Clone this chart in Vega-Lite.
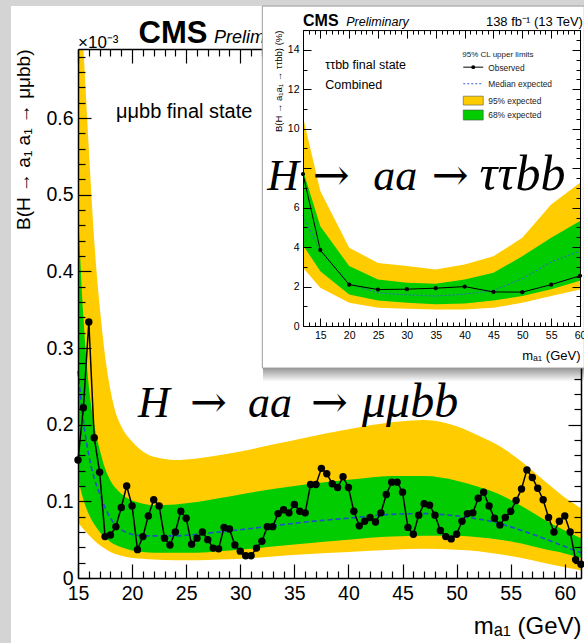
{
"$schema": "https://vega.github.io/schema/vega-lite/v6.json",
"background": "#d4d4d4",
"padding": {"left": 10, "top": 5, "right": 0, "bottom": 0},
"spacing": -325,
"align": "none",
"config": {"view": {"stroke": null}, "axis": {"labelFont": "Liberation Sans", "titleFont": "Liberation Sans", "labelColor": "black", "titleColor": "black", "tickColor": "black", "domainColor": "black", "grid": false, "titleFontWeight": "normal", "labelFlush": false, "labelOverlap": false}, "text": {"font": "Liberation Sans", "color": "black"}},
"datasets": {
"mainObs": [
{"m":15,"v":0.154},{"m":15.5,"v":0.222},{"m":16,"v":0.334},{"m":16.5,"v":0.183},{"m":17,"v":0.138},{"m":17.5,"v":0.054},{"m":18,"v":0.056},{"m":18.5,"v":0.067},{"m":19,"v":0.092},{"m":19.5,"v":0.12},
{"m":20,"v":0.094},{"m":20.5,"v":0.037},{"m":21,"v":0.054},{"m":21.5,"v":0.081},{"m":22,"v":0.102},{"m":22.5,"v":0.094},{"m":23,"v":0.052},{"m":23.5,"v":0.043},{"m":24,"v":0.06},{"m":24.5,"v":0.087},
{"m":25,"v":0.078},{"m":25.5,"v":0.044},{"m":26,"v":0.052},{"m":26.5,"v":0.06},{"m":27,"v":0.05},{"m":27.5,"v":0.039},{"m":28,"v":0.038},{"m":28.5,"v":0.066},{"m":29,"v":0.064},{"m":29.5,"v":0.043},
{"m":30,"v":0.035},{"m":30.5,"v":0.029},{"m":31,"v":0.029},{"m":31.5,"v":0.039},{"m":32,"v":0.048},{"m":32.5,"v":0.067},{"m":33,"v":0.067},{"m":33.5,"v":0.084},{"m":34,"v":0.089},{"m":34.5,"v":0.085},
{"m":35,"v":0.096},{"m":35.5,"v":0.087},{"m":36,"v":0.085},{"m":36.5,"v":0.122},{"m":37,"v":0.122},{"m":37.5,"v":0.143},{"m":38,"v":0.136},{"m":38.5,"v":0.123},{"m":39,"v":0.118},{"m":39.5,"v":0.132},
{"m":40,"v":0.118},{"m":40.5,"v":0.087},{"m":41,"v":0.068},{"m":41.5,"v":0.074},{"m":42,"v":0.079},{"m":42.5,"v":0.073},{"m":43,"v":0.085},{"m":43.5,"v":0.109},{"m":44,"v":0.125},{"m":44.5,"v":0.125},
{"m":45,"v":0.112},{"m":45.5,"v":0.066},{"m":46,"v":0.057},{"m":46.5,"v":0.082},{"m":47,"v":0.097},{"m":47.5,"v":0.095},{"m":48,"v":0.082},{"m":48.5,"v":0.062},{"m":49,"v":0.054},{"m":49.5,"v":0.051},
{"m":50,"v":0.057},{"m":50.5,"v":0.074},{"m":51,"v":0.084},{"m":51.5,"v":0.085},{"m":52,"v":0.104},{"m":52.5,"v":0.112},{"m":53,"v":0.094},{"m":53.5,"v":0.078},{"m":54,"v":0.069},{"m":54.5,"v":0.079},
{"m":55,"v":0.087},{"m":55.5,"v":0.101},{"m":56,"v":0.116},{"m":56.5,"v":0.141},{"m":57,"v":0.131},{"m":57.5,"v":0.117},{"m":58,"v":0.102},{"m":58.5,"v":0.079},{"m":59,"v":0.06},{"m":59.5,"v":0.074},
{"m":60,"v":0.081},{"m":60.5,"v":0.06},{"m":61,"v":0.024},{"m":61.5,"v":0.018}
],
"mainBand": [
{"m":15,"lo95":0.072,"lo68":0.13,"med":0.27,"hi68":0.48,"hi95":0.8},
{"m":15.5,"lo95":0.064,"lo68":0.102,"med":0.205,"hi68":0.34,"hi95":0.69},
{"m":16,"lo95":0.056,"lo68":0.083,"med":0.16,"hi68":0.25,"hi95":0.56},
{"m":16.5,"lo95":0.049,"lo68":0.07,"med":0.13,"hi68":0.2,"hi95":0.44},
{"m":17,"lo95":0.043,"lo68":0.06,"med":0.11,"hi68":0.168,"hi95":0.355},
{"m":17.5,"lo95":0.038,"lo68":0.053,"med":0.092,"hi68":0.143,"hi95":0.29},
{"m":18,"lo95":0.034,"lo68":0.047,"med":0.078,"hi68":0.127,"hi95":0.245},
{"m":18.5,"lo95":0.031,"lo68":0.043,"med":0.069,"hi68":0.117,"hi95":0.215},
{"m":19,"lo95":0.029,"lo68":0.04,"med":0.063,"hi68":0.11,"hi95":0.198},
{"m":20,"lo95":0.026,"lo68":0.036,"med":0.057,"hi68":0.101,"hi95":0.178},
{"m":21,"lo95":0.025,"lo68":0.034,"med":0.055,"hi68":0.097,"hi95":0.165},
{"m":22,"lo95":0.024,"lo68":0.033,"med":0.055,"hi68":0.095,"hi95":0.158},
{"m":24,"lo95":0.023,"lo68":0.033,"med":0.055,"hi68":0.096,"hi95":0.154},
{"m":26,"lo95":0.023,"lo68":0.033,"med":0.057,"hi68":0.099,"hi95":0.156},
{"m":28,"lo95":0.024,"lo68":0.035,"med":0.06,"hi68":0.104,"hi95":0.16},
{"m":30,"lo95":0.025,"lo68":0.037,"med":0.063,"hi68":0.109,"hi95":0.165},
{"m":33,"lo95":0.028,"lo68":0.041,"med":0.068,"hi68":0.116,"hi95":0.174},
{"m":36,"lo95":0.031,"lo68":0.045,"med":0.073,"hi68":0.122,"hi95":0.183},
{"m":40,"lo95":0.034,"lo68":0.05,"med":0.078,"hi68":0.128,"hi95":0.194},
{"m":44,"lo95":0.037,"lo68":0.054,"med":0.083,"hi68":0.133,"hi95":0.203},
{"m":47,"lo95":0.038,"lo68":0.055,"med":0.084,"hi68":0.133,"hi95":0.206},
{"m":50,"lo95":0.037,"lo68":0.055,"med":0.081,"hi68":0.127,"hi95":0.198},
{"m":52,"lo95":0.035,"lo68":0.053,"med":0.077,"hi68":0.119,"hi95":0.186},
{"m":54,"lo95":0.031,"lo68":0.05,"med":0.071,"hi68":0.109,"hi95":0.172},
{"m":56,"lo95":0.026,"lo68":0.045,"med":0.062,"hi68":0.094,"hi95":0.152},
{"m":58,"lo95":0.02,"lo68":0.038,"med":0.052,"hi68":0.077,"hi95":0.128},
{"m":60,"lo95":0.014,"lo68":0.032,"med":0.041,"hi68":0.062,"hi95":0.105},
{"m":61.5,"lo95":0.01,"lo68":0.026,"med":0.033,"hi68":0.052,"hi95":0.091}
],
"inset": [
{"m":12,"obs":7.7,"med":5.6,"lo68":4.1,"hi68":7.9,"lo95":2.95,"hi95":10.6},
{"m":15,"obs":3.85,"med":3.8,"lo68":2.78,"hi68":5.06,"lo95":1.94,"hi95":6.84},
{"m":20,"obs":2.1,"med":2.15,"lo68":1.6,"hi68":3.04,"lo95":1.18,"hi95":3.97},
{"m":25,"obs":1.85,"med":1.68,"lo68":1.3,"hi68":2.36,"lo95":0.93,"hi95":3.2},
{"m":30,"obs":1.87,"med":1.58,"lo68":1.18,"hi68":2.19,"lo95":0.88,"hi95":3.04},
{"m":35,"obs":1.92,"med":1.52,"lo68":1.1,"hi68":2.14,"lo95":0.84,"hi95":2.87},
{"m":40,"obs":2.0,"med":1.62,"lo68":1.15,"hi68":2.36,"lo95":0.84,"hi95":3.12},
{"m":45,"obs":1.73,"med":1.8,"lo68":1.3,"hi68":2.7,"lo95":0.93,"hi95":3.54},
{"m":50,"obs":1.72,"med":2.4,"lo68":1.52,"hi68":3.54,"lo95":1.18,"hi95":4.47},
{"m":55,"obs":2.1,"med":3.25,"lo68":1.86,"hi68":4.47,"lo95":1.52,"hi95":6.16},
{"m":60,"obs":2.55,"med":3.8,"lo68":2.3,"hi68":5.32,"lo95":1.85,"hi95":7.26}
]
},
"hconcat": [
{
"width": 503, "height": 529,
"resolve": {"axis": {"x": "independent", "y": "independent"}},
"layer": [
{"data": {"values": [{}]}, "mark": {"type": "rect", "color": "white"},
 "encoding": {"x": {"datum": 8.806, "type": "quantitative", "scale": {"domain": [15, 61.5], "nice": false, "zero": false}, "axis": null}, "x2": {"datum": 61.87},
  "y": {"datum": 0.746, "type": "quantitative", "scale": {"domain": [0, 0.69], "nice": false, "zero": false}, "axis": null}, "y2": {"datum": -0.085}}},
{"data": {"name": "mainBand"}, "mark": {"type": "area", "interpolate": "monotone", "color": "#FFCC00", "clip": true},
 "encoding": {
  "x": {"field": "m", "type": "quantitative", "scale": {"domain": [15, 61.5], "nice": false, "zero": false},
   "axis": {"orient": "bottom", "zindex": 1, "values": [15,16,17,18,19,20,21,22,23,24,25,26,27,28,29,30,31,32,33,34,35,36,37,38,39,40,41,42,43,44,45,46,47,48,49,50,51,52,53,54,55,56,57,58,59,60,61], "format": "d",
    "labelExpr": "datum.value % 5 === 0 ? datum.label : ''",
    "tickSize": {"condition": {"test": "datum.value % 5 === 0", "value": -14}, "value": -7},
    "tickWidth": 1.2, "domainWidth": 1.5, "labelFontSize": 19.5, "labelPadding": 20,
    "title": "mₐ₁ (GeV)", "titleFontSize": 24, "titleAnchor": "end", "titlePadding": 5}},
  "y": {"field": "hi95", "type": "quantitative", "scale": {"domain": [0, 0.69], "nice": false, "zero": false},
   "axis": {"orient": "left", "zindex": 1, "values": [0,0.02,0.04,0.06,0.08,0.1,0.12,0.14,0.16,0.18,0.2,0.22,0.24,0.26,0.28,0.3,0.32,0.34,0.36,0.38,0.4,0.42,0.44,0.46,0.48,0.5,0.52,0.54,0.56,0.58,0.6,0.62,0.64,0.66,0.68], "format": "~g",
    "labelExpr": "indexof([0,0.1,0.2,0.3,0.4,0.5,0.6], datum.value) >= 0 ? datum.label : ''",
    "tickSize": {"condition": {"test": "indexof([0,0.1,0.2,0.3,0.4,0.5,0.6], datum.value) >= 0", "value": -13}, "value": -7},
    "tickWidth": 1.2, "domainWidth": 1.5, "labelFontSize": 19.5, "labelPadding": 18,
    "title": "B(H → a₁ a₁ → μμbb)", "titleFontSize": 19, "titleAnchor": "end", "titlePadding": 12}},
  "y2": {"field": "lo95"}}},
{"data": {"name": "mainBand"}, "mark": {"type": "area", "interpolate": "monotone", "color": "#00CC00", "clip": true},
 "encoding": {
  "x": {"field": "m", "type": "quantitative", "scale": {"domain": [15, 61.5], "nice": false, "zero": false},
   "axis": {"orient": "top", "zindex": 1, "values": [15,16,17,18,19,20,21,22,23,24,25,26,27,28,29,30,31,32,33,34,35,36,37,38,39,40,41,42,43,44,45,46,47,48,49,50,51,52,53,54,55,56,57,58,59,60,61],
    "labels": false, "tickSize": {"condition": {"test": "datum.value % 5 === 0", "value": -14}, "value": -7}, "tickWidth": 1.2, "domainWidth": 1.5, "title": null}},
  "y": {"field": "hi68", "type": "quantitative", "scale": {"domain": [0, 0.69], "nice": false, "zero": false},
   "axis": {"orient": "right", "zindex": 1, "values": [0,0.02,0.04,0.06,0.08,0.1,0.12,0.14,0.16,0.18,0.2,0.22,0.24,0.26,0.28,0.3,0.32,0.34,0.36,0.38,0.4,0.42,0.44,0.46,0.48,0.5,0.52,0.54,0.56,0.58,0.6,0.62,0.64,0.66,0.68],
    "labels": false, "tickSize": {"condition": {"test": "indexof([0,0.1,0.2,0.3,0.4,0.5,0.6], datum.value) >= 0", "value": -13}, "value": -7}, "tickWidth": 1.2, "domainWidth": 1.5, "title": null}},
  "y2": {"field": "lo68"}}},
{"data": {"name": "mainBand"}, "mark": {"type": "line", "interpolate": "monotone", "color": "#2050c8", "strokeWidth": 1.6, "strokeDash": [5, 3]},
 "encoding": {"x": {"field": "m", "type": "quantitative", "scale": {"domain": [15, 61.5], "nice": false, "zero": false}, "axis": null},
  "y": {"field": "med", "type": "quantitative", "scale": {"domain": [0, 0.69], "nice": false, "zero": false}, "axis": null}}},
{"data": {"name": "mainObs"}, "mark": {"type": "line", "color": "black", "strokeWidth": 1.5, "point": {"filled": true, "size": 55, "color": "black"}},
 "encoding": {"x": {"field": "m", "type": "quantitative", "scale": {"domain": [15, 61.5], "nice": false, "zero": false}, "axis": null},
  "y": {"field": "v", "type": "quantitative", "scale": {"domain": [0, 0.69], "nice": false, "zero": false}, "axis": null}}},
{"data": {"values": [{}]}, "mark": {"type": "text", "text": "×10⁻³", "fontSize": 17, "align": "left", "baseline": "alphabetic"},
 "encoding": {"x": {"datum": 15.0, "type": "quantitative", "scale": {"domain": [15, 61.5], "nice": false, "zero": false}, "axis": null},
  "y": {"datum": 0.6916, "type": "quantitative", "scale": {"domain": [0, 0.69], "nice": false, "zero": false}, "axis": null}}},
{"data": {"values": [{}]}, "mark": {"type": "text", "text": "CMS", "fontSize": 31, "fontWeight": "bold", "align": "left", "baseline": "alphabetic"},
 "encoding": {"x": {"datum": 20.6, "type": "quantitative", "scale": {"domain": [15, 61.5], "nice": false, "zero": false}, "axis": null},
  "y": {"datum": 0.6977, "type": "quantitative", "scale": {"domain": [0, 0.69], "nice": false, "zero": false}, "axis": null}}},
{"data": {"values": [{}]}, "mark": {"type": "text", "text": "Preliminary", "fontSize": 18, "fontStyle": "italic", "align": "left", "baseline": "alphabetic"},
 "encoding": {"x": {"datum": 27.57, "type": "quantitative", "scale": {"domain": [15, 61.5], "nice": false, "zero": false}, "axis": null},
  "y": {"datum": 0.6977, "type": "quantitative", "scale": {"domain": [0, 0.69], "nice": false, "zero": false}, "axis": null}}},
{"data": {"values": [{}]}, "mark": {"type": "text", "text": "μμbb final state", "fontSize": 20, "align": "left", "baseline": "alphabetic"},
 "encoding": {"x": {"datum": 18.51, "type": "quantitative", "scale": {"domain": [15, 61.5], "nice": false, "zero": false}, "axis": null},
  "y": {"datum": 0.6003, "type": "quantitative", "scale": {"domain": [0, 0.69], "nice": false, "zero": false}, "axis": null}}},
{"data": {"values": [{}]}, "mark": {"type": "text", "text": "H", "font": "Liberation Serif", "fontStyle": "italic", "fontSize": 44, "align": "left", "baseline": "alphabetic"},
 "encoding": {"x": {"datum": 20.547, "type": "quantitative", "scale": {"domain": [15, 61.5], "nice": false, "zero": false}, "axis": null},
  "y": {"datum": 0.2099, "type": "quantitative", "scale": {"domain": [0, 0.69], "nice": false, "zero": false}, "axis": null}}},
{"data": {"values": [{}]}, "mark": {"type": "text", "text": "→", "font": "DejaVu Serif", "fontSize": 44, "align": "center", "baseline": "alphabetic"},
 "encoding": {"x": {"datum": 27.064, "type": "quantitative", "scale": {"domain": [15, 61.5], "nice": false, "zero": false}, "axis": null},
  "y": {"datum": 0.2099, "type": "quantitative", "scale": {"domain": [0, 0.69], "nice": false, "zero": false}, "axis": null}}},
{"data": {"values": [{}]}, "mark": {"type": "text", "text": "aa", "font": "Liberation Serif", "fontStyle": "italic", "fontSize": 44, "align": "left", "baseline": "alphabetic"},
 "encoding": {"x": {"datum": 30.716, "type": "quantitative", "scale": {"domain": [15, 61.5], "nice": false, "zero": false}, "axis": null},
  "y": {"datum": 0.2099, "type": "quantitative", "scale": {"domain": [0, 0.69], "nice": false, "zero": false}, "axis": null}}},
{"data": {"values": [{}]}, "mark": {"type": "text", "text": "→", "font": "DejaVu Serif", "fontSize": 44, "align": "center", "baseline": "alphabetic"},
 "encoding": {"x": {"datum": 38.25, "type": "quantitative", "scale": {"domain": [15, 61.5], "nice": false, "zero": false}, "axis": null},
  "y": {"datum": 0.2099, "type": "quantitative", "scale": {"domain": [0, 0.69], "nice": false, "zero": false}, "axis": null}}},
{"data": {"values": [{}]}, "mark": {"type": "text", "text": "μμbb", "font": "Liberation Serif", "fontStyle": "italic", "fontSize": 48, "align": "left", "baseline": "alphabetic"},
 "encoding": {"x": {"datum": 41.255, "type": "quantitative", "scale": {"domain": [15, 61.5], "nice": false, "zero": false}, "axis": null},
  "y": {"datum": 0.2099, "type": "quantitative", "scale": {"domain": [0, 0.69], "nice": false, "zero": false}, "axis": null}}},
{"data": {"values": [{}]}, "mark": {"type": "rect", "color": {"gradient": "linear", "x1": 0, "y1": 0, "x2": 0, "y2": 1, "stops": [{"offset": 0, "color": "#8a8a8a"}, {"offset": 1, "color": "#ffffff"}]}, "opacity": 0.9},
 "encoding": {"x": {"datum": 32.1, "type": "quantitative", "scale": {"domain": [15, 61.5], "nice": false, "zero": false}, "axis": null}, "x2": {"datum": 61.87},
  "y": {"datum": 0.274, "type": "quantitative", "scale": {"domain": [0, 0.69], "nice": false, "zero": false}, "axis": null}, "y2": {"datum": 0.256}}}
]
},
{
"width": 277, "height": 277,
"resolve": {"axis": {"x": "independent", "y": "independent"}},
"layer": [
{"data": {"values": [{}]}, "mark": {"type": "rect", "fill": "white", "stroke": "#9a9a9a", "strokeWidth": 1},
 "encoding": {"x": {"datum": 4.947, "type": "quantitative", "scale": {"domain": [12, 60], "nice": false, "zero": false}, "axis": null}, "x2": {"datum": 60.745},
  "y": {"datum": 16.216, "type": "quantitative", "scale": {"domain": [0, 15], "range": [277.07, -18.93], "nice": false, "zero": false}, "axis": null}, "y2": {"datum": -2.128}}},
{"data": {"name": "inset"}, "mark": {"type": "area", "color": "#FFCC00"},
 "encoding": {
  "x": {"field": "m", "type": "quantitative", "scale": {"domain": [12, 60], "nice": false, "zero": false},
   "axis": {"orient": "bottom", "zindex": 1, "values": [12,13,14,15,16,17,18,19,20,21,22,23,24,25,26,27,28,29,30,31,32,33,34,35,36,37,38,39,40,41,42,43,44,45,46,47,48,49,50,51,52,53,54,55,56,57,58,59,60], "format": "d",
    "labelExpr": "datum.value % 5 === 0 && datum.value >= 15 ? datum.label : ''",
    "tickSize": {"condition": {"test": "datum.value % 5 === 0", "value": -8}, "value": -4},
    "tickWidth": 1, "domainWidth": 1, "labelFontSize": 10.5, "labelPadding": 12,
    "title": "mₐ₁ (GeV)", "titleFontSize": 13, "titleAnchor": "end", "titlePadding": 5}},
  "y": {"field": "hi95", "type": "quantitative", "scale": {"domain": [0, 15], "range": [277.07, -18.93], "nice": false, "zero": false},
   "axis": {"orient": "left", "zindex": 1, "values": [0,0.5,1,1.5,2,2.5,3,3.5,4,4.5,5,5.5,6,6.5,7,7.5,8,8.5,9,9.5,10,10.5,11,11.5,12,12.5,13,13.5,14,14.5,15], "format": "d",
    "labelExpr": "datum.value % 2 === 0 && datum.value !== 8 ? datum.label : ''",
    "tickSize": {"condition": {"test": "datum.value % 2 === 0", "value": -8}, "value": -4},
    "tickWidth": 1, "domainWidth": 1, "labelFontSize": 10.5, "labelPadding": 12,
    "title": "B(H → a₁a₁ → ττbb) (%)", "titleFontSize": 9.5, "titleAnchor": "end", "titlePadding": 4}},
  "y2": {"field": "lo95"}}},
{"data": {"name": "inset"}, "mark": {"type": "area", "color": "#00CC00"},
 "encoding": {
  "x": {"field": "m", "type": "quantitative", "scale": {"domain": [12, 60], "nice": false, "zero": false},
   "axis": {"orient": "top", "zindex": 1, "offset": 18.93, "values": [12,13,14,15,16,17,18,19,20,21,22,23,24,25,26,27,28,29,30,31,32,33,34,35,36,37,38,39,40,41,42,43,44,45,46,47,48,49,50,51,52,53,54,55,56,57,58,59,60],
    "labels": false, "tickSize": {"condition": {"test": "datum.value % 5 === 0", "value": -8}, "value": -4}, "tickWidth": 1, "domainWidth": 1, "title": null}},
  "y": {"field": "hi68", "type": "quantitative", "scale": {"domain": [0, 15], "range": [277.07, -18.93], "nice": false, "zero": false},
   "axis": {"orient": "right", "zindex": 1, "values": [0,0.5,1,1.5,2,2.5,3,3.5,4,4.5,5,5.5,6,6.5,7,7.5,8,8.5,9,9.5,10,10.5,11,11.5,12,12.5,13,13.5,14,14.5,15],
    "labels": false, "tickSize": {"condition": {"test": "datum.value % 2 === 0", "value": -8}, "value": -4}, "tickWidth": 1, "domainWidth": 1, "title": null}},
  "y2": {"field": "lo68"}}},
{"data": {"name": "inset"}, "mark": {"type": "line", "color": "#3a5fd8", "strokeWidth": 1, "strokeDash": [2, 2]},
 "encoding": {"x": {"field": "m", "type": "quantitative", "scale": {"domain": [12, 60], "nice": false, "zero": false}, "axis": null},
  "y": {"field": "med", "type": "quantitative", "scale": {"domain": [0, 15], "range": [277.07, -18.93], "nice": false, "zero": false}, "axis": null}}},
{"data": {"name": "inset"}, "mark": {"type": "line", "color": "black", "strokeWidth": 1, "point": {"filled": true, "size": 18, "color": "black"}},
 "encoding": {"x": {"field": "m", "type": "quantitative", "scale": {"domain": [12, 60], "nice": false, "zero": false}, "axis": null},
  "y": {"field": "obs", "type": "quantitative", "scale": {"domain": [0, 15], "range": [277.07, -18.93], "nice": false, "zero": false}, "axis": null}}},
{"data": {"values": [{}]}, "mark": {"type": "text", "text": "CMS", "fontSize": 16, "fontWeight": "bold", "align": "left", "baseline": "alphabetic"},
 "encoding": {"x": {"datum": 12.0, "type": "quantitative", "scale": {"domain": [12, 60], "nice": false, "zero": false}, "axis": null},
  "y": {"datum": 15.2, "type": "quantitative", "scale": {"domain": [0, 15], "range": [277.07, -18.93], "nice": false, "zero": false}, "axis": null}}},
{"data": {"values": [{}]}, "mark": {"type": "text", "text": "Preliminary", "fontSize": 12.5, "fontStyle": "italic", "align": "left", "baseline": "alphabetic"},
 "encoding": {"x": {"datum": 19.5, "type": "quantitative", "scale": {"domain": [12, 60], "nice": false, "zero": false}, "axis": null},
  "y": {"datum": 15.2, "type": "quantitative", "scale": {"domain": [0, 15], "range": [277.07, -18.93], "nice": false, "zero": false}, "axis": null}}},
{"data": {"values": [{}]}, "mark": {"type": "text", "text": "138 fb⁻¹ (13 TeV)", "fontSize": 13, "align": "right", "baseline": "alphabetic"},
 "encoding": {"x": {"datum": 60.5, "type": "quantitative", "scale": {"domain": [12, 60], "nice": false, "zero": false}, "axis": null},
  "y": {"datum": 15.2, "type": "quantitative", "scale": {"domain": [0, 15], "range": [277.07, -18.93], "nice": false, "zero": false}, "axis": null}}},
{"data": {"values": [{}]}, "mark": {"type": "text", "text": "ττbb final state", "fontSize": 12.5, "align": "left", "baseline": "alphabetic"},
 "encoding": {"x": {"datum": 15.86, "type": "quantitative", "scale": {"domain": [12, 60], "nice": false, "zero": false}, "axis": null},
  "y": {"datum": 13.02, "type": "quantitative", "scale": {"domain": [0, 15], "range": [277.07, -18.93], "nice": false, "zero": false}, "axis": null}}},
{"data": {"values": [{}]}, "mark": {"type": "text", "text": "Combined", "fontSize": 12.5, "align": "left", "baseline": "alphabetic"},
 "encoding": {"x": {"datum": 15.86, "type": "quantitative", "scale": {"domain": [12, 60], "nice": false, "zero": false}, "axis": null},
  "y": {"datum": 12.0, "type": "quantitative", "scale": {"domain": [0, 15], "range": [277.07, -18.93], "nice": false, "zero": false}, "axis": null}}},
{"data": {"values": [{}]}, "mark": {"type": "text", "text": "95% CL upper limits", "fontSize": 8, "align": "left", "baseline": "alphabetic", "color": "#222"},
 "encoding": {"x": {"datum": 39.6, "type": "quantitative", "scale": {"domain": [12, 60], "nice": false, "zero": false}, "axis": null},
  "y": {"datum": 13.66, "type": "quantitative", "scale": {"domain": [0, 15], "range": [277.07, -18.93], "nice": false, "zero": false}, "axis": null}}},
{"data": {"values": [{}]}, "mark": {"type": "rule", "color": "black", "strokeWidth": 1},
 "encoding": {"x": {"datum": 39.77, "type": "quantitative", "scale": {"domain": [12, 60], "nice": false, "zero": false}, "axis": null}, "x2": {"datum": 43.23},
  "y": {"datum": 13.12, "type": "quantitative", "scale": {"domain": [0, 15], "range": [277.07, -18.93], "nice": false, "zero": false}, "axis": null}}},
{"data": {"values": [{}]}, "mark": {"type": "point", "filled": true, "size": 15, "color": "black", "opacity": 1},
 "encoding": {"x": {"datum": 41.5, "type": "quantitative", "scale": {"domain": [12, 60], "nice": false, "zero": false}, "axis": null},
  "y": {"datum": 13.12, "type": "quantitative", "scale": {"domain": [0, 15], "range": [277.07, -18.93], "nice": false, "zero": false}, "axis": null}}},
{"data": {"values": [{}]}, "mark": {"type": "text", "text": "Observed", "fontSize": 8.4, "align": "left", "baseline": "middle", "color": "#222"},
 "encoding": {"x": {"datum": 44.1, "type": "quantitative", "scale": {"domain": [12, 60], "nice": false, "zero": false}, "axis": null},
  "y": {"datum": 13.1, "type": "quantitative", "scale": {"domain": [0, 15], "range": [277.07, -18.93], "nice": false, "zero": false}, "axis": null}}},
{"data": {"values": [{}]}, "mark": {"type": "rule", "color": "#3a5fd8", "strokeWidth": 1, "strokeDash": [2, 2]},
 "encoding": {"x": {"datum": 39.77, "type": "quantitative", "scale": {"domain": [12, 60], "nice": false, "zero": false}, "axis": null}, "x2": {"datum": 43.23},
  "y": {"datum": 12.28, "type": "quantitative", "scale": {"domain": [0, 15], "range": [277.07, -18.93], "nice": false, "zero": false}, "axis": null}}},
{"data": {"values": [{}]}, "mark": {"type": "text", "text": "Median expected", "fontSize": 8.4, "align": "left", "baseline": "middle", "color": "#222"},
 "encoding": {"x": {"datum": 44.1, "type": "quantitative", "scale": {"domain": [12, 60], "nice": false, "zero": false}, "axis": null},
  "y": {"datum": 12.28, "type": "quantitative", "scale": {"domain": [0, 15], "range": [277.07, -18.93], "nice": false, "zero": false}, "axis": null}}},
{"data": {"values": [{}]}, "mark": {"type": "rect", "fill": "#FFCC00", "stroke": "#555", "strokeWidth": 0.6},
 "encoding": {"x": {"datum": 39.77, "type": "quantitative", "scale": {"domain": [12, 60], "nice": false, "zero": false}, "axis": null}, "x2": {"datum": 43.23},
  "y": {"datum": 11.65, "type": "quantitative", "scale": {"domain": [0, 15], "range": [277.07, -18.93], "nice": false, "zero": false}, "axis": null}, "y2": {"datum": 11.2}}},
{"data": {"values": [{}]}, "mark": {"type": "text", "text": "95% expected", "fontSize": 8.4, "align": "left", "baseline": "middle", "color": "#222"},
 "encoding": {"x": {"datum": 44.1, "type": "quantitative", "scale": {"domain": [12, 60], "nice": false, "zero": false}, "axis": null},
  "y": {"datum": 11.43, "type": "quantitative", "scale": {"domain": [0, 15], "range": [277.07, -18.93], "nice": false, "zero": false}, "axis": null}}},
{"data": {"values": [{}]}, "mark": {"type": "rect", "fill": "#00CC00", "stroke": "#555", "strokeWidth": 0.6},
 "encoding": {"x": {"datum": 39.77, "type": "quantitative", "scale": {"domain": [12, 60], "nice": false, "zero": false}, "axis": null}, "x2": {"datum": 43.23},
  "y": {"datum": 10.95, "type": "quantitative", "scale": {"domain": [0, 15], "range": [277.07, -18.93], "nice": false, "zero": false}, "axis": null}, "y2": {"datum": 10.44}}},
{"data": {"values": [{}]}, "mark": {"type": "text", "text": "68% expected", "fontSize": 8.4, "align": "left", "baseline": "middle", "color": "#222"},
 "encoding": {"x": {"datum": 44.1, "type": "quantitative", "scale": {"domain": [12, 60], "nice": false, "zero": false}, "axis": null},
  "y": {"datum": 10.69, "type": "quantitative", "scale": {"domain": [0, 15], "range": [277.07, -18.93], "nice": false, "zero": false}, "axis": null}}},
{"data": {"values": [{}]}, "mark": {"type": "text", "text": "H", "font": "Liberation Serif", "fontStyle": "italic", "fontSize": 44, "align": "left", "baseline": "alphabetic"},
 "encoding": {"x": {"datum": 5.814, "type": "quantitative", "scale": {"domain": [12, 60], "nice": false, "zero": false}, "axis": null},
  "y": {"datum": 6.892, "type": "quantitative", "scale": {"domain": [0, 15], "range": [277.07, -18.93], "nice": false, "zero": false}, "axis": null}}},
{"data": {"values": [{}]}, "mark": {"type": "text", "text": "→", "font": "DejaVu Serif", "fontSize": 44, "align": "center", "baseline": "alphabetic"},
 "encoding": {"x": {"datum": 16.904, "type": "quantitative", "scale": {"domain": [12, 60], "nice": false, "zero": false}, "axis": null},
  "y": {"datum": 6.892, "type": "quantitative", "scale": {"domain": [0, 15], "range": [277.07, -18.93], "nice": false, "zero": false}, "axis": null}}},
{"data": {"values": [{}]}, "mark": {"type": "text", "text": "aa", "font": "Liberation Serif", "fontStyle": "italic", "fontSize": 44, "align": "left", "baseline": "alphabetic"},
 "encoding": {"x": {"datum": 24.182, "type": "quantitative", "scale": {"domain": [12, 60], "nice": false, "zero": false}, "axis": null},
  "y": {"datum": 6.892, "type": "quantitative", "scale": {"domain": [0, 15], "range": [277.07, -18.93], "nice": false, "zero": false}, "axis": null}}},
{"data": {"values": [{}]}, "mark": {"type": "text", "text": "→", "font": "DejaVu Serif", "fontSize": 44, "align": "center", "baseline": "alphabetic"},
 "encoding": {"x": {"datum": 37.525, "type": "quantitative", "scale": {"domain": [12, 60], "nice": false, "zero": false}, "axis": null},
  "y": {"datum": 6.892, "type": "quantitative", "scale": {"domain": [0, 15], "range": [277.07, -18.93], "nice": false, "zero": false}, "axis": null}}},
{"data": {"values": [{}]}, "mark": {"type": "text", "text": "ττbb", "font": "Liberation Serif", "fontStyle": "italic", "fontSize": 50, "align": "left", "baseline": "alphabetic", "limit": 106, "ellipsis": ""},
 "encoding": {"x": {"datum": 42.6, "type": "quantitative", "scale": {"domain": [12, 60], "nice": false, "zero": false}, "axis": null},
  "y": {"datum": 6.892, "type": "quantitative", "scale": {"domain": [0, 15], "range": [277.07, -18.93], "nice": false, "zero": false}, "axis": null}}}
]
}
]
}
